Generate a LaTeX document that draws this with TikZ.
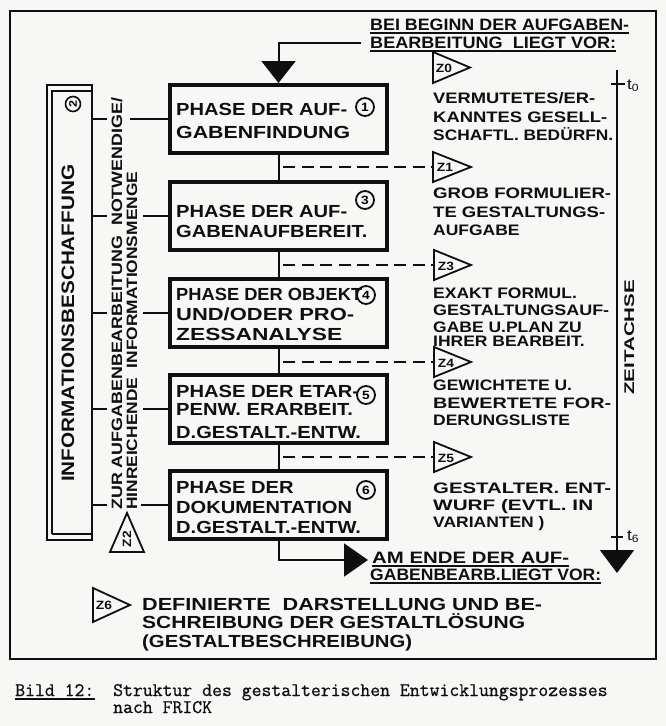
\documentclass[tikz,border=0pt]{standalone}
\usepackage{fontspec}
\usetikzlibrary{arrows.meta}
\newfontfamily\lf{Liberation Sans}[FakeStretch=1.15]
\newfontfamily\capf{Latin Modern Mono}[FakeBold=0.8]
\definecolor{paper}{RGB}{247,247,246}
\definecolor{ink}{RGB}{15,15,15}
\newcommand\fitw[2]{\resizebox{#1pt}{\height}{#2}}
\tikzset{
  ln/.style={line width=2pt, draw=ink},
  frame/.style={line width=2.5pt, draw=ink},
  phase/.style={draw=ink, line width=4pt, minimum width=217pt, minimum height=68pt, inner sep=0pt},
  bt/.style={font=\lf\bfseries\fontsize{17.5}{20}\selectfont, text=ink, inner sep=0pt, anchor=base west},
  rt/.style={font=\lf\bfseries\fontsize{15.2}{18}\selectfont, text=ink, inner sep=0pt, anchor=base west},
  lb/.style={font=\lf\bfseries\fontsize{16.5}{20}\selectfont, text=ink, inner sep=0pt, anchor=base west},
  zt/.style={font=\lf\bfseries\fontsize{17.5}{20}\selectfont, text=ink, inner sep=0pt, anchor=base west},
  vt/.style={font=\lf\bfseries\fontsize{15}{16}\selectfont, text=ink, inner sep=0pt, anchor=base west, rotate=90},
  num/.style={draw=ink, circle, line width=1.8pt, minimum size=18pt, inner sep=0pt, font=\lf\bfseries\fontsize{12}{12}\selectfont},
  zl/.style={font=\lf\bfseries\fontsize{12}{12}\selectfont, text=ink, inner sep=0pt},
  ztri/.style={draw=ink, line width=1.8pt, line join=miter},
  dsh/.style={line width=2pt, draw=ink, dash pattern=on 12pt off 6.5pt},
  captext/.style={font=\capf\fontsize{19.2}{20}\selectfont, text=ink, inner sep=0pt, anchor=base west},
  tl/.style={font=\lf\fontsize{15}{15}\selectfont, text=ink, inner sep=0pt, anchor=west},
  bigtip/.style={-{Triangle[length=22pt,width=34pt]}},
  ul/.style={line width=1.5pt, draw=ink},
}
\begin{document}
\begin{tikzpicture}[x=1pt,y=-1pt]
\fill[paper] (0,0) rectangle (666,726);
\useasboundingbox (0,0) rectangle (666,726);
% outer frame
\draw[frame] (10,11) rectangle (656,659);

% phase boxes
\node[phase] (b1) at (278.5,119) {};
\node[phase] (b2) at (278.5,216) {};
\node[phase] (b3) at (278.5,312.5) {};
\node[phase] (b4) at (278.5,408.5) {};
\node[phase] (b5) at (278.5,505) {};

% texts in boxes
\node[bt] (b1a) at (176,115) {PHASE DER AUF-};
\node[bt] (b1b) at (176,138) {\fitw{174}{GABENFINDUNG}};
\node[bt] (b2a) at (176,217) {PHASE DER AUF-};
\node[bt] (b2b) at (176,237) {GABENAUFBEREIT.};
\node[bt] (b3a) at (176,300) {\fitw{186}{PHASE DER OBJEKT}};
\node[bt] (b3b) at (176,320) {\fitw{178}{UND/ODER PRO-}};
\node[bt] (b3c) at (176,340) {\fitw{166}{ZESSANALYSE}};
\node[bt] (b4a) at (176,397) {PHASE DER ETAR-};
\node[bt] (b4b) at (176,415) {PENW. ERARBEIT.};
\node[bt] (b4c) at (176,438) {D.GESTALT.-ENTW.};
\node[bt] (b5a) at (176,493) {PHASE DER};
\node[bt] (b5b) at (176,513) {DOKUMENTATION};
\node[bt] (b5c) at (176,533) {D.GESTALT.-ENTW.};

% circled numbers
\node[num] (n1) at (365,107) {1};
\node[num] (n3) at (365,200) {3};
\node[num] (n4) at (366,295) {4};
\node[num] (n5) at (366,395) {5};
\node[num] (n6) at (366,490) {6};

% vertical connectors
\draw[ln] (b1.south) -- (b2.north);
\draw[ln] (b2.south) -- (b3.north);
\draw[ln] (b3.south) -- (b4.north);
\draw[ln] (b4.south) -- (b5.north);

% top label and arrow
\node[lb] (top1) at (370,30) {\fitw{259}{BEI BEGINN DER AUFGABEN-}};
\node[lb] (top2) at (370,48) {\fitw{246}{BEARBEITUNG\ \ LIEGT VOR:}};
\draw[ul] ([yshift=-3pt]top1.base west) -- ([yshift=-3pt]top1.base east);
\draw[ul] ([yshift=-3pt]top2.base west) -- ([yshift=-3pt]top2.base east);
\coordinate (tstart) at (361,43);
\draw[ln, bigtip] (tstart) -| (b1.north);

% bottom arrow and label
\coordinate (bend) at (368,560);
\draw[ln, -{Triangle[length=24pt,width=33pt]}] (b5.south) |- (bend);
\node[lb] (bot1) at (372,563) {\fitw{197}{AM ENDE DER AUF-}};
\node[lb] (bot2) at (370,580) {\fitw{231}{GABENBEARB.LIEGT VOR:}};
\draw[ul] ([yshift=-3pt]bot1.base west) -- ([yshift=-3pt]bot1.base east);
\draw[ul] ([yshift=-3pt]bot2.base west) -- ([yshift=-3pt]bot2.base east);

% Z triangles on the right
\draw[ztri] (433,52) -- (470,67.5) -- (433,83) -- cycle;
\node[zl] (z0l) at (444,68) {Z0};
\draw[ztri] (433,152) -- (471,167) -- (433,182) -- cycle;
\coordinate (z1) at (433,167);
\node[zl] (z1l) at (445,167) {Z1};
\draw[ztri] (434,250) -- (471,265) -- (434,280) -- cycle;
\coordinate (z3) at (434,265);
\node[zl] (z3l) at (446,266) {Z3};
\draw[ztri] (434,347) -- (471,362) -- (434,377) -- cycle;
\coordinate (z4) at (434,362);
\node[zl] (z4l) at (446,363) {Z4};
\draw[ztri] (434,442) -- (471,457) -- (434,472) -- cycle;
\coordinate (z5) at (434,457);
\node[zl] (z5l) at (446,458) {Z5};

% dashed connectors
\coordinate (d1) at (283,167);
\coordinate (d3) at (283,265);
\coordinate (d4) at (283,362);
\coordinate (d5) at (283,457);
\draw[dsh] (d1) -- (z1);
\draw[dsh] (d3) -- (z3);
\draw[dsh] (d4) -- (z4);
\draw[dsh] (d5) -- (z5);

% right texts
\node[rt] (r0a) at (433,103) {\fitw{162}{VERMUTETES/ER-}};
\node[rt] (r0b) at (433,122) {\fitw{174}{KANNTES GESELL-}};
\node[rt] (r0c) at (433,140) {\fitw{180}{SCHAFTL. BEDÜRFN.}};
\node[rt] (r1a) at (433,198) {\fitw{178}{GROB FORMULIER-}};
\node[rt] (r1b) at (433,217) {\fitw{172}{TE GESTALTUNGS-}};
\node[rt] (r1c) at (433,235) {AUFGABE};
\node[rt] (r3a) at (433,298) {EXAKT FORMUL.};
\node[rt] (r3b) at (433,315) {\fitw{176}{GESTALTUNGSAUF-}};
\node[rt] (r3c) at (433,332) {GABE U.PLAN ZU};
\node[rt] (r3d) at (433,346) {IHRER BEARBEIT.};
\node[rt] (r4a) at (433,390) {GEWICHTETE U.};
\node[rt] (r4b) at (433,408) {\fitw{178}{BEWERTETE FOR-}};
\node[rt] (r4c) at (433,425) {DERUNGSLISTE};
\node[rt] (r5a) at (433,493) {\fitw{178}{GESTALTER. ENT-}};
\node[rt] (r5b) at (433,510) {\fitw{160}{WURF (EVTL. IN}};
\node[rt] (r5c) at (433,527) {VARIANTEN )};

% time axis
\coordinate (ax0) at (617,70);
\coordinate (ax1) at (617,573);
\draw[ln, -{Triangle[length=23pt,width=34pt]}] (ax0) -- (ax1);
\draw[ln] (611,84) -- (625,84);
\draw[ln] (611,537) -- (623,537);
\node[tl] (t0) at (627,86) {t\textsubscript{0}};
\node[tl] (t6) at (627,537) {t\textsubscript{6}};
\node[vt, font=\lf\bfseries\fontsize{14}{14}\selectfont] (zeit) at (634,395) {\fitw{115}{ZEITACHSE}};

% information column
\node[draw=ink, line width=2.5pt, minimum width=45pt, minimum height=455pt, inner sep=0pt] (info) at (69.5,312.5) {};
\draw[line width=1.5pt, draw=ink] (52,534) -- (52,91) -- (92,91);
\draw[line width=1.5pt, draw=ink] (52,534) -- (92,534);
\node[vt, font=\lf\bfseries\fontsize{18}{18}\selectfont] (infot) at (74,482) {\fitw{317}{INFORMATIONSBESCHAFFUNG}};
\node[num, rotate=90, minimum size=15pt, line width=1.6pt, font=\lf\bfseries\fontsize{11}{11}\selectfont] (n2) at (73,104) {2};

% rotated middle text
\node[vt] (v1) at (122,510) {\fitw{412}{ZUR AUFGABENBEARBEITUNG\ \ NOTWENDIGE/}};
\node[vt] (v2) at (137,510) {\fitw{338}{HINREICHENDE\ \ INFORMATIONSMENGE}};

% side connectors
\draw[ln] (info.east |- b1) -- ++(14,0);
\draw[ln] (b1.west) -- ++(-38,0);
\draw[ln] (info.east |- b2) -- ++(14,0);
\draw[ln] (b2.west) -- ++(-25,0);
\draw[ln] (info.east |- b3) -- ++(14,0);
\draw[ln] (b3.west) -- ++(-25,0);
\draw[ln] (info.east |- b4) -- ++(14,0);
\draw[ln] (b4.west) -- ++(-25,0);
\draw[ln] (info.east |- b5) -- ++(14,0);
\draw[ln] (b5.west) -- ++(-27,0);

% Z2 triangle
\draw[ztri] (110,552) -- (127,513) -- (144,552) -- cycle;
\node[zl, rotate=90] (z2l) at (127,539) {Z2};

% Z6 and final text
\draw[ztri] (93,588) -- (130,605) -- (93,622) -- cycle;
\node[zl] (z6l) at (104,605) {Z6};
\node[zt] (f1) at (142,610) {\fitw{400}{DEFINIERTE\ \ DARSTELLUNG UND BE-}};
\node[zt] (f2) at (142,628) {\fitw{383}{SCHREIBUNG DER GESTALTLÖSUNG}};
\node[zt] (f3) at (142,647) {\fitw{270}{(GESTALTBESCHREIBUNG)}};

% caption
\node[captext] (c1) at (15,696) {Bild 12:};
\draw[line width=1.3pt, draw=ink] ([yshift=-3pt]c1.base west) -- ([yshift=-3pt]c1.base east);
\node[captext] (c2) at (113,696) {Struktur des gestalterischen Entwicklungsprozesses};
\node[captext] (c3) at (113,713) {nach FRICK};
\end{tikzpicture}
\end{document}
